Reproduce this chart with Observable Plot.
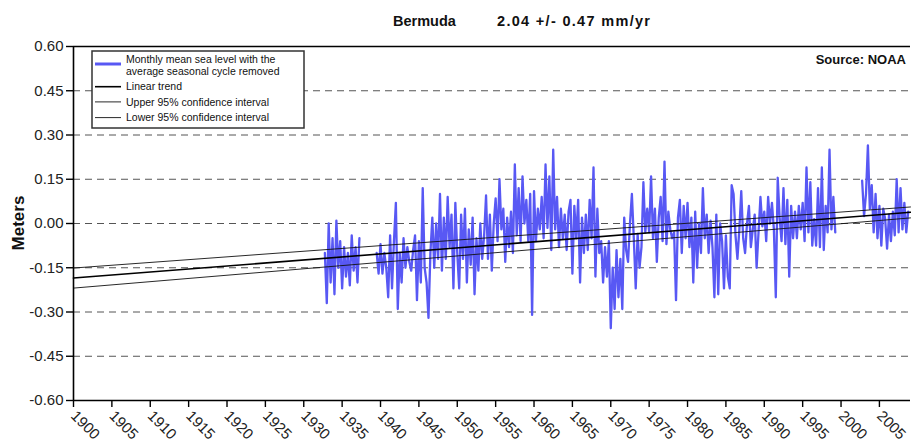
<!DOCTYPE html>
<html>
<head>
<meta charset="utf-8">
<script src="https://cdn.jsdelivr.net/npm/d3@7"></script>
<script src="https://cdn.jsdelivr.net/npm/@observablehq/plot@0.6"></script>
<style>
  html, body { margin: 0; padding: 0; background: #fff; }
  #chart { width: 911px; height: 448px; }
</style>
</head>
<body>
<div id="chart"></div>
<script>
// ---- data ----
const stationName = "Bermuda";
const trendLabel = "2.04 +/- 0.47 mm/yr";
const sourceLabel = "Source: NOAA";
const yAxisLabel = "Meters";

// first sample and sampling step (quarterly readings of the monthly series)
const firstYear = 1932.75;
const stepYears = 0.25;
// sea level anomaly (m), 4 readings per year, null = no data
const seaLevel = [
  -0.10,                        // 1932 Q4
  -0.27, 0.00, -0.20, -0.05,    // 1933
  -0.24, 0.01, -0.15, -0.06,    // 1934
  -0.22, -0.08, -0.18, -0.10,   // 1935
  -0.21, -0.04, -0.16, -0.08,   // 1936
  -0.20, -0.05, null, null,     // 1937
  null, null, null, null,       // 1938
  null, null, -0.10, -0.17,     // 1939
  -0.07, -0.17, -0.10, -0.15,   // 1940
  -0.25, -0.04, -0.22, -0.06,   // 1941
  0.07, -0.29, -0.10, -0.20,    // 1942
  -0.05, -0.15, -0.08, -0.13,   // 1943
  -0.16, -0.09, -0.04, -0.26,   // 1944
  -0.06, -0.20, 0.12, -0.15,    // 1945
  -0.20, -0.32, -0.10, 0.02,    // 1946
  -0.15, 0.00, -0.12, 0.10,     // 1947
  -0.16, 0.02, -0.12, 0.09,     // 1948
  -0.08, 0.03, -0.22, 0.07,     // 1949
  -0.10, -0.22, 0.03, -0.12,    // 1950
  0.05, -0.20, -0.02, -0.14,    // 1951
  0.02, -0.24, -0.05, -0.16,    // 1952
  0.00, -0.12, -0.04, 0.095,    // 1953
  -0.12, 0.03, -0.16, 0.00,     // 1954
  0.085, -0.06, 0.15, -0.02,    // 1955
  0.05, -0.13, 0.02, -0.08,     // 1956
  0.04, -0.10, 0.20, -0.04,     // 1957
  0.12, -0.06, 0.16, 0.00,      // 1958
  0.08, -0.06, 0.10, -0.31,     // 1959
  0.11, -0.06, 0.05, -0.02,     // 1960
  0.09, -0.05, 0.20, -0.015,    // 1961
  0.16, -0.09, 0.25, -0.02,     // 1962
  0.09, -0.08, 0.05, -0.05,     // 1963
  0.03, -0.09, 0.04, 0.08,      // 1964
  -0.17, 0.06, -0.05, 0.08,     // 1965
  -0.20, 0.02, -0.10, 0.03,     // 1966
  -0.09, 0.08, -0.05, 0.19,     // 1967
  -0.18, 0.05, -0.10, -0.06,    // 1968
  -0.20, -0.08, -0.18, -0.06,   // 1969
  -0.355, -0.15, -0.29, -0.09,  // 1970
  -0.25, -0.12, -0.29, 0.02,    // 1971
  -0.09, -0.13, 0.00, 0.10,     // 1972
  -0.05, -0.22, -0.035, -0.15,  // 1973
  -0.08, 0.14, -0.03, 0.05,     // 1974
  -0.03, 0.16, -0.05, 0.05,     // 1975
  -0.13, 0.02, 0.09, -0.06,     // 1976
  0.21, -0.07, 0.04, -0.02,     // 1977
  -0.05, -0.03, -0.26, 0.02,    // 1978
  0.08, -0.10, 0.06, -0.05,     // 1979
  0.07, -0.08, 0.02, -0.20,     // 1980
  0.04, -0.15, 0.00, -0.10,     // 1981
  0.12, -0.05, 0.03, -0.10,     // 1982
  0.01, -0.08, -0.25, 0.03,     // 1983
  -0.24, 0.00, -0.06, -0.22,    // 1984
  -0.04, -0.18, -0.22, 0.13,    // 1985
  0.10, -0.04, -0.12, -0.02,    // 1986
  0.11, -0.05, -0.10, 0.00,     // 1987
  0.06, -0.08, -0.02, 0.03,     // 1988
  -0.15, -0.03, 0.09, -0.01,    // 1989
  0.04, -0.06, 0.09, 0.00,      // 1990
  0.07, -0.02, -0.25, 0.155,    // 1991
  0.02, -0.06, 0.12, -0.07,     // 1992
  0.08, -0.18, 0.06, -0.05,     // 1993
  0.04, -0.05, 0.06, -0.02,     // 1994
  0.07, -0.06, 0.19, -0.03,     // 1995
  0.14, -0.075, 0.015, -0.075,  // 1996
  0.12, -0.08, 0.19, -0.09,     // 1997
  0.06, -0.03, 0.25, -0.02,     // 1998
  0.09, -0.03, null, null,      // 1999
  null, null, null, null,       // 2000
  null, null, null, null,       // 2001
  null, null, null, 0.145,      // 2002
  0.025, 0.10, 0.265, 0.05,     // 2003
  0.13, -0.03, 0.10, -0.05,     // 2004
  0.06, -0.075, 0.05, 0.015,    // 2005
  -0.085, 0.03, -0.06, 0.04,    // 2006
  -0.04, 0.15, -0.03, 0.12,     // 2007
  -0.02, 0.07, -0.03, 0.04      // 2008
];

// linear trend and its 95% confidence interval (end points)
const trendYears = [1900, 2009.05];
const trendLinear = [-0.185, 0.038];
const trendUpper = [-0.151, 0.056];
const trendLower = [-0.219, 0.019];

// axes
const xDomain = [1900, 2009.05];
const yDomain = [-0.6, 0.6];
const xTicks = [1900, 1905, 1910, 1915, 1920, 1925, 1930, 1935, 1940, 1945, 1950, 1955,
                1960, 1965, 1970, 1975, 1980, 1985, 1990, 1995, 2000, 2005];
const yTicks = [-0.60, -0.45, -0.30, -0.15, 0.00, 0.15, 0.30, 0.45, 0.60];
const gridValues = [-0.45, -0.30, -0.15, 0.00, 0.15, 0.30, 0.45];

// legend entries
const legendLabels = [
  ["Monthly mean sea level with the", "average seasonal cycle removed"],
  ["Linear trend"],
  ["Upper 95% confidence interval"],
  ["Lower 95% confidence interval"]
];

// ---- build tables ----
const series = seaLevel.map((v, i) => ({year: firstYear + i * stepYears, msl: v}));
const trendRows = [];
[["linear", trendLinear], ["upper", trendUpper], ["lower", trendLower]].forEach(([k, arr]) => {
  trendYears.forEach((yr, i) => trendRows.push({kind: k, year: yr, value: arr[i]}));
});

const blue = "#5858f4";
const FONT = "'Liberation Sans', Arial, Helvetica, sans-serif";

const chart = Plot.plot({
  width: 911,
  height: 448,
  marginTop: 46,
  marginBottom: 48,
  marginLeft: 73,
  marginRight: 1,
  style: {fontFamily: FONT, fontSize: "15px", color: "#222", background: "#fff", overflow: "visible"},
  x: {domain: xDomain},
  y: {domain: yDomain},
  marks: [
    Plot.ruleY(gridValues, {stroke: "#555", strokeWidth: 1, strokeDasharray: "7,5"}),
    Plot.lineY(series, {x: "year", y: "msl", stroke: blue, strokeWidth: 2.3, curve: "linear"}),
    Plot.line(trendRows.filter(d => d.kind !== "linear"), {x: "year", y: "value", z: "kind", stroke: "#111", strokeWidth: 0.9}),
    Plot.line(trendRows.filter(d => d.kind === "linear"), {x: "year", y: "value", stroke: "#000", strokeWidth: 1.6}),
    Plot.ruleY([yDomain[1]], {stroke: "#000", strokeWidth: 1.6}),
    Plot.ruleY([yDomain[0]], {stroke: "#000", strokeWidth: 1.6}),
    Plot.ruleX([xDomain[0]], {stroke: "#000", strokeWidth: 1.6}),
    Plot.axisY({ticks: yTicks, tickSize: 7, tickPadding: 3, tickFormat: d => d.toFixed(2), label: null, stroke: "#000", strokeWidth: 1.4}),
    Plot.axisX({ticks: xTicks, tickSize: 7, tickFormat: d => String(d), tickRotate: 45, label: null, stroke: "#000", strokeWidth: 1.4})
  ]
});

document.getElementById("chart").appendChild(chart);

// ---- annotations: title, axis label, source, legend ----
const svg = d3.select(chart);
const title = svg.append("g").attr("font-family", FONT).attr("font-weight", "bold")
  .attr("font-size", 14.5).attr("fill", "#111").attr("text-anchor", "start");
title.append("text").attr("x", 393).attr("y", 26).text(stationName);
title.append("text").attr("x", 497).attr("y", 26)
  .attr("textLength", 153).attr("lengthAdjust", "spacing").text(trendLabel);

svg.append("text")
  .attr("transform", "translate(24,223) rotate(-90)")
  .attr("text-anchor", "middle")
  .attr("font-family", FONT).attr("font-weight", "bold").attr("font-size", 17).attr("fill", "#111")
  .text(yAxisLabel);

svg.append("text")
  .attr("x", 906).attr("y", 64)
  .attr("text-anchor", "end")
  .attr("font-family", FONT).attr("font-weight", "bold").attr("font-size", 13).attr("fill", "#111")
  .text(sourceLabel);

const lg = svg.append("g").attr("font-family", FONT).attr("font-size", 10.5)
  .attr("fill", "#111").attr("text-anchor", "start");
lg.append("rect").attr("x", 92).attr("y", 51).attr("width", 212).attr("height", 77)
  .attr("fill", "#fff").attr("stroke", "#333").attr("stroke-width", 1.5);
const sampleY = [64, 86.7, 101.9, 117.6];
const sampleStroke = [blue, "#000", "#111", "#111"];
const sampleWidth = [3, 1.6, 0.9, 0.9];
legendLabels.forEach((lines, i) => {
  lg.append("line").attr("x1", 95).attr("x2", 121).attr("y1", sampleY[i]).attr("y2", sampleY[i])
    .attr("stroke", sampleStroke[i]).attr("stroke-width", sampleWidth[i]);
  lines.forEach((t, j) => {
    const yy = lines.length === 2 ? [59.5, 71.5][j] : sampleY[i];
    lg.append("text").attr("x", 126).attr("y", yy).attr("dy", "0.35em").text(t);
  });
});
</script>
</body>
</html>
